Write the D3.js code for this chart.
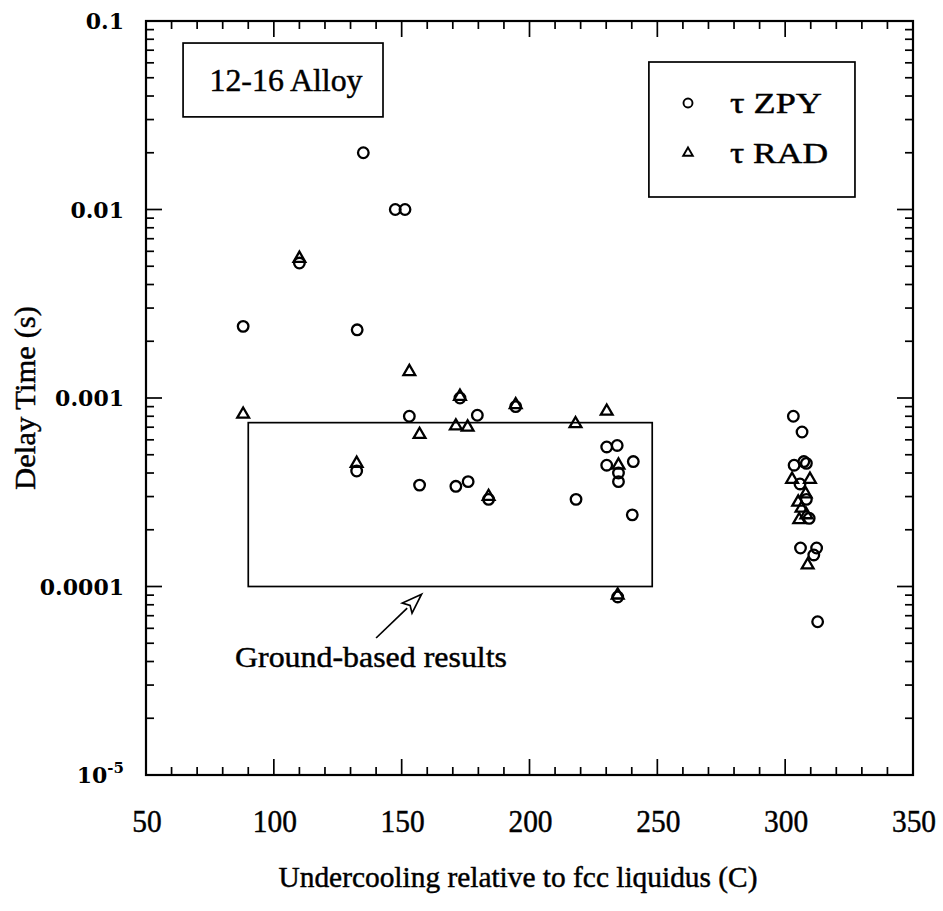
<!DOCTYPE html>
<html>
<head>
<meta charset="utf-8">
<script src="https://cdn.jsdelivr.net/npm/d3@7"></script>
<style>
  body { margin: 0; background: #fff; }
  svg text { fill: #000; }
  .serif { font-family: "Liberation Serif"; stroke: #000; stroke-width: 0.45px; }
  .tick-y { font-family: "DejaVu Serif"; font-weight: bold; }
</style>
</head>
<body>
<svg id="chart" width="943" height="911"></svg>
<script>
"use strict"

// tau ZPY (circles)
var zpyX = [88, 110, 132.6, 135, 132.4, 147.5, 151.3, 153, 157, 172.8, 171.2, 176, 179.6, 184,
  194.6, 218.2, 230.2, 234.3, 230.2, 234.8, 234.8, 240.6, 240.2, 234.5,
  303.2, 306.6, 303.5, 307.3, 308.3, 305.8, 308.3, 309.4, 306, 312.3, 311.2, 312.7]
var zpyY = [0.0024, 0.0052, 0.0023, 0.020, 0.00041, 0.010, 0.010, 0.00080, 0.000345, 0.00100, 0.00034, 0.00036, 0.00081, 0.00029,
  0.00090, 0.00029, 0.00055, 0.00056, 0.00044, 0.00040, 0.00036, 0.00046, 0.00024, 0.000088,
  0.00080, 0.00066, 0.00044, 0.00046, 0.00045, 0.00035, 0.00029, 0.00023, 0.00016, 0.00016, 0.000147, 0.000065]

// tau RAD (triangles)
var radX = [88, 110, 132.4, 153, 157, 172.8, 171.2, 175.8, 184, 194.6, 218, 230.2, 234.8, 234.5,
  302.7, 309.7, 308, 305.1, 306.4, 305.5, 308.3, 308.8]
var radY = [0.00082, 0.0055, 0.00045, 0.00138, 0.00064, 0.00102, 0.00071, 0.00070, 0.00030, 0.00092, 0.00073, 0.00085, 0.00044, 0.000090,
  0.00037, 0.00037, 0.00031, 0.00028, 0.00026, 0.000226, 0.00024, 0.00013]

var xTickLabels = [50, 100, 150, 200, 250, 300, 350]
var yTickLabels = [0.1, 0.01, 0.001, 0.0001, 0.00001]
var legendLabels = ["\u03c4 ZPY", "\u03c4 RAD"]

// ground-based results box: [x0, x1], [y0, y1]
var groundX = [90, 248]
var groundY = [0.0001, 0.00074]

var margin = {left: 146, right: 913, top: 21, bottom: 775}

var x = d3.scaleLinear().domain([50, 350]).range([margin.left, margin.right])
var y = d3.scaleLog().domain([0.00001, 0.1]).range([margin.bottom, margin.top])

var svg = d3.select("#chart")

// ticks, inward on all four sides
var xMinor = d3.range(50, 351, 10)
var yMinor = y.ticks()

function isMajorX(d) { return d % 50 === 0 }
function isMajorY(d) { return Math.abs(Math.log10(d) - Math.round(Math.log10(d))) < 1e-9 }

var ticks = svg.append("g").attr("stroke", "#000").attr("stroke-width", 1.7)

ticks.selectAll(".xb").data(xMinor).enter().append("line")
  .attr("x1", function(d){ return x(d) }).attr("x2", function(d){ return x(d) })
  .attr("y1", margin.bottom)
  .attr("y2", function(d){ return margin.bottom - (isMajorX(d) ? 16 : 8) })

ticks.selectAll(".xt").data(xMinor).enter().append("line")
  .attr("x1", function(d){ return x(d) }).attr("x2", function(d){ return x(d) })
  .attr("y1", margin.top)
  .attr("y2", function(d){ return margin.top + (isMajorX(d) ? 16 : 8) })

ticks.selectAll(".yl").data(yMinor).enter().append("line")
  .attr("y1", function(d){ return y(d) }).attr("y2", function(d){ return y(d) })
  .attr("x1", margin.left)
  .attr("x2", function(d){ return margin.left + (isMajorY(d) ? 16 : 8) })

ticks.selectAll(".yr").data(yMinor).enter().append("line")
  .attr("y1", function(d){ return y(d) }).attr("y2", function(d){ return y(d) })
  .attr("x1", margin.right)
  .attr("x2", function(d){ return margin.right - (isMajorY(d) ? 16 : 8) })

// frame
svg.append("rect")
  .attr("x", margin.left).attr("y", margin.top)
  .attr("width", margin.right - margin.left)
  .attr("height", margin.bottom - margin.top)
  .attr("fill", "none").attr("stroke", "#000").attr("stroke-width", 2.2)

// x tick labels
svg.selectAll(".xlab").data(xTickLabels).enter().append("text")
  .attr("class", "serif")
  .attr("transform", function(d){ return "translate(" + (x(d) + 1) + ",832) scale(0.92,1)" })
  .attr("text-anchor", "middle")
  .style("font-size", "32px")
  .text(function(d){ return d })

// y tick labels
var ylab = svg.selectAll(".ylab").data(yTickLabels).enter().append("text")
  .attr("class", "tick-y")
  .attr("x", 124)
  .attr("y", function(d){ return y(d) + 8 })
  .attr("text-anchor", "end")
  .style("font-size", "22px")

ylab.filter(function(d){ return d >= 0.0001 })
  .text(function(d){ return String(d) })

var exp = ylab.filter(function(d){ return d < 0.0001 })
exp.append("tspan").text("10")
exp.append("tspan").attr("dy", -10).style("font-size", "15px").text("-5")

// axis titles
svg.append("text")
  .attr("class", "serif")
  .attr("transform", "translate(35,398) rotate(-90)")
  .attr("text-anchor", "middle")
  .attr("textLength", 184).attr("lengthAdjust", "spacingAndGlyphs")
  .style("font-size", "30px")
  .text("Delay Time (s)")

svg.append("text")
  .attr("class", "serif")
  .attr("x", 518).attr("y", 887)
  .attr("text-anchor", "middle")
  .attr("textLength", 479).attr("lengthAdjust", "spacingAndGlyphs")
  .style("font-size", "30px")
  .text("Undercooling relative to fcc liquidus (C)")

// ground-based box
svg.append("rect")
  .attr("x", x(groundX[0])).attr("y", y(groundY[1]))
  .attr("width", x(groundX[1]) - x(groundX[0]))
  .attr("height", y(groundY[0]) - y(groundY[1]))
  .attr("fill", "none").attr("stroke", "#000").attr("stroke-width", 1.7)

// arrow pointing at the box
var arrowFrom = [140, 0.0000533]
var arrowTo = [157.8, 0.000091]
var ax0 = x(arrowFrom[0]), ay0 = y(arrowFrom[1])
var ax1 = x(arrowTo[0]), ay1 = y(arrowTo[1])
var ang = Math.atan2(ay1 - ay0, ax1 - ax0)
var headLen = 20, headW = 7
function pt(l, w) {
  return [ax1 - l * Math.cos(ang) - w * Math.sin(ang), ay1 - l * Math.sin(ang) + w * Math.cos(ang)]
}
svg.append("line")
  .attr("x1", ax0).attr("y1", ay0)
  .attr("x2", pt(headLen, 0)[0]).attr("y2", pt(headLen, 0)[1])
  .attr("stroke", "#000").attr("stroke-width", 1.7)
svg.append("path")
  .attr("d", d3.line()([pt(0, 0), pt(headLen, headW), pt(headLen - 4, 0), pt(headLen, -headW)]) + "Z")
  .attr("fill", "#fff").attr("stroke", "#000").attr("stroke-width", 1.7)

svg.append("text")
  .attr("class", "serif")
  .attr("x", 371).attr("y", 667)
  .attr("text-anchor", "middle")
  .attr("textLength", 272).attr("lengthAdjust", "spacingAndGlyphs")
  .style("font-size", "30px")
  .text("Ground-based results")

// 12-16 Alloy label box
var alloyX = [64.5, 142.7]
var alloyY = [0.031, 0.0764]
svg.append("rect")
  .attr("x", x(alloyX[0])).attr("y", y(alloyY[1]))
  .attr("width", x(alloyX[1]) - x(alloyX[0]))
  .attr("height", y(alloyY[0]) - y(alloyY[1]))
  .attr("fill", "none").attr("stroke", "#000").attr("stroke-width", 1.7)
svg.append("text")
  .attr("class", "serif")
  .attr("x", (x(alloyX[0]) + x(alloyX[1])) / 2 + 3).attr("y", 91)
  .attr("text-anchor", "middle")
  .attr("textLength", 153).attr("lengthAdjust", "spacingAndGlyphs")
  .style("font-size", "32px")
  .text("12-16 Alloy")

// markers
var triSym = d3.symbol().type(d3.symbolTriangle).size(60)

svg.append("g").selectAll("circle")
  .data(d3.range(zpyX.length)).enter().append("circle")
  .attr("cx", function(i){ return x(zpyX[i]) })
  .attr("cy", function(i){ return y(zpyY[i]) })
  .attr("r", 5.3)
  .attr("fill", "none").attr("stroke", "#000").attr("stroke-width", 2.3)

svg.append("g").selectAll("path")
  .data(d3.range(radX.length)).enter().append("path")
  .attr("d", triSym)
  .attr("transform", function(i){ return "translate(" + x(radX[i]) + "," + y(radY[i]) + ")" })
  .attr("fill", "none").attr("stroke", "#000").attr("stroke-width", 2.3)

// legend
var legX = [246.7, 327.3]
var legY = [0.01165, 0.0606]
svg.append("rect")
  .attr("x", x(legX[0])).attr("y", y(legY[1]))
  .attr("width", x(legX[1]) - x(legX[0]))
  .attr("height", y(legY[0]) - y(legY[1]))
  .attr("fill", "none").attr("stroke", "#000").attr("stroke-width", 1.7)

var leg = svg.append("g").selectAll("g")
  .data(legendLabels).enter().append("g")
  .attr("transform", function(d, i){ return "translate(688," + (103 + i * 50) + ")" })

leg.filter(function(d, i){ return i === 0 }).append("circle")
  .attr("r", 4.5).attr("fill", "none").attr("stroke", "#000").attr("stroke-width", 1.9)
leg.filter(function(d, i){ return i === 1 }).append("path")
  .attr("d", d3.symbol().type(d3.symbolTriangle).size(40))
  .attr("fill", "none").attr("stroke", "#000").attr("stroke-width", 1.9)

leg.append("text")
  .attr("class", "serif")
  .attr("x", 42).attr("y", 10)
  .attr("textLength", function(d, i){ return i === 0 ? 92 : 98 })
  .attr("lengthAdjust", "spacingAndGlyphs")
  .style("font-size", "30px")
  .text(function(d){ return d })
</script>
</body>
</html>
